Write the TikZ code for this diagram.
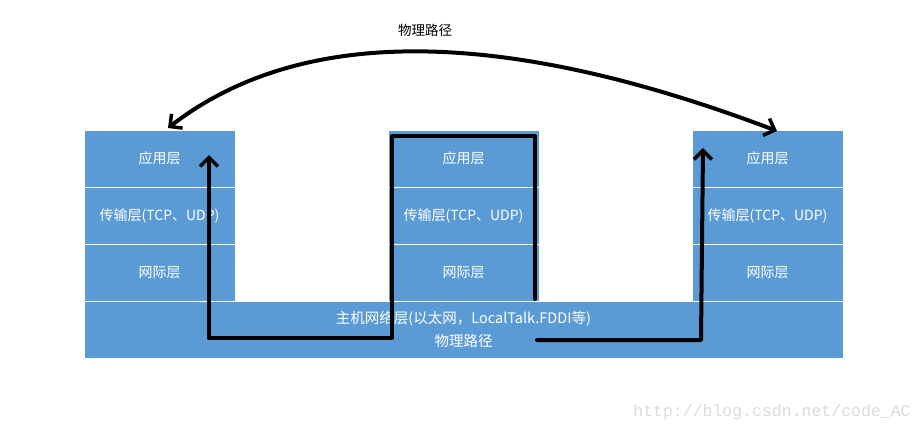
\documentclass[tikz,border=0pt]{standalone}
\usepackage{fontspec}
\setmainfont{Liberation Sans}
\setmonofont{Liberation Mono}
\newfontfamily\cjk{Noto Sans CJK SC}
\usetikzlibrary{positioning,arrows.meta}
\definecolor{layer}{HTML}{5B9BD5}

\begin{document}
\begin{tikzpicture}[
  x=1pt, y=-1pt,
  font=\cjk\fontsize{14}{23}\selectfont,
  cell/.style={fill=layer, draw=white, line width=0.6pt, text=white,
               minimum width=151pt, minimum height=57pt, inner sep=0pt, outer sep=0pt},
  band/.style={fill=layer, draw=white, line width=0.6pt, text=white, align=center,
               minimum width=759pt, minimum height=57pt, inner sep=0pt, outer sep=0pt,
               font=\cjk\fontsize{14.5}{23}\selectfont},
  route/.style={draw=black, line width=4pt, line cap=round, line join=round},
  barb/.tip={Straight Barb[length=9pt, width=18pt, line width=3.5pt]},
]
\useasboundingbox (0,0) rectangle (924,432);

% host network layer, shared by all three stacks
\node[band, anchor=north west] (net) at (84,301) {主机网络层(以太网，LocalTalk.FDDI等)\\物理路径};

% three protocol stacks
\foreach \s/\x in {a/84, b/388, c/692} {
  \node[cell, anchor=north west] (\s1) at (\x,130) {应用层};
  \node[cell, below=0pt of \s1] (\s2) {传输层(TCP、UDP)};
  \node[cell, below=0pt of \s2] (\s3) {网际层};
}

% route of the data through the stacks
\coordinate (lb) at (209,338);
\coordinate (lt) at (209,155);
\coordinate (mb) at (392,338);
\coordinate (mt1) at (392,136);
\coordinate (mt2) at (535,136);
\coordinate (me) at (535,299);
\coordinate (rb0) at (537,340);
\coordinate (rb) at (701,340);
\coordinate (rt) at (703,148);
\draw[route, -barb] (lb) -- (lt);
\draw[route] (lb) -- (mb) -- (mt1) -- (mt2) -- (me);
\draw[route, -barb] (rb0) -- (rb) -- (rt);

% logical path between the two end hosts
\coordinate (al) at (168,128);
\coordinate (ar) at (777,131);
\draw[route, barb-barb] (al) .. controls (300,26) and (500,26) .. (ar);
\node[font=\cjk\fontsize{13.5}{15}\selectfont] (path) at (425,30) {物理路径};

% watermark
\node[font=\ttfamily\fontsize{16.5}{18}\selectfont, text=black!14] (mark) at (772,412) {http://blog.csdn.net/code\_AC};
\end{tikzpicture}
\end{document}
